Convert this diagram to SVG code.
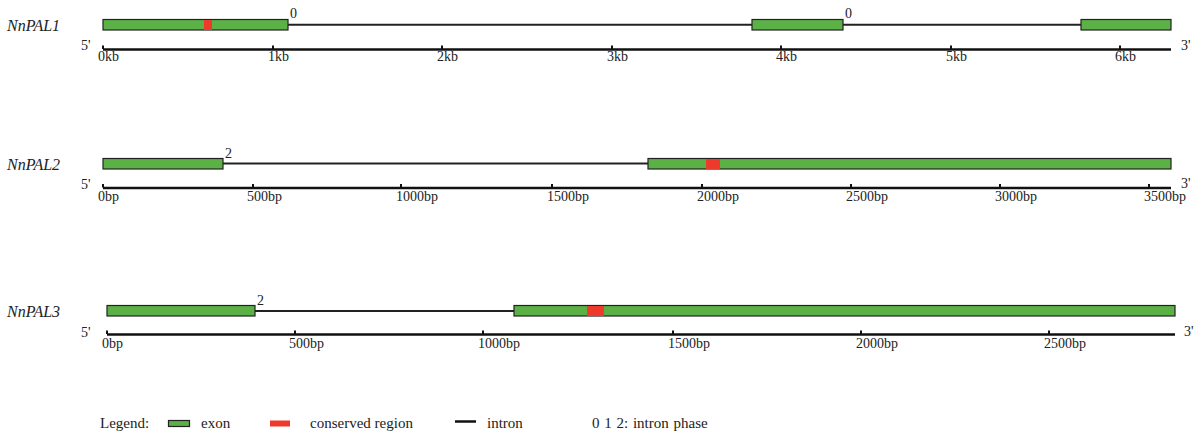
<svg xmlns="http://www.w3.org/2000/svg" width="1200" height="436" viewBox="0 0 1200 436" font-family="'Liberation Serif', 'Times New Roman', serif">
<style>
text{font-family:"Liberation Serif","Times New Roman",serif;font-size:14px;fill:#222}
.name{font-style:italic;font-size:16px}
.lg{font-size:15px}
.ex{fill:#5cb146;stroke:#222;stroke-width:1.2}
.cr{fill:#ee3a2c}
.intr{stroke:#222;stroke-width:2;fill:none}
.ax{stroke:#111;stroke-width:2.5;fill:none}
.tk{stroke:#111;stroke-width:2;fill:none}
</style>
<rect width="1200" height="436" fill="#fff"/>
<g id="connectors">
<line class="intr" x1="288" y1="24.7" x2="752" y2="24.7"/>
<line class="intr" x1="843" y1="24.7" x2="1081" y2="24.7"/>
<line class="intr" x1="223" y1="163.5" x2="648" y2="163.5"/>
<line class="intr" x1="255" y1="311" x2="514" y2="311"/>
</g>
<g id="NnPAL1">
<text class="name" x="7" y="31">NnPAL1</text>
<rect class="ex" x="103" y="19.5" width="185" height="10.5"/>
<rect class="cr" x="204" y="20" width="8" height="10"/>
<rect class="ex" x="752" y="19.5" width="91" height="10.5"/>
<rect class="ex" x="1081" y="19.5" width="90" height="10.5"/>
<text x="290" y="18">0</text>
<text x="845" y="18">0</text>
<text x="81" y="50">5'</text>
<text x="1181" y="50">3'</text>
<line class="ax" x1="103" y1="49.5" x2="1171" y2="49.5"/>
<path class="tk" d="M103 45.5v3.5M273 45.5v3.5M442 45.5v3.5M612 45.5v3.5M781 45.5v3.5M951 45.5v3.5M1120 45.5v3.5"/>
<text x="98" y="61">0kb</text>
<text x="268" y="61">1kb</text>
<text x="437" y="61">2kb</text>
<text x="607" y="61">3kb</text>
<text x="776" y="61">4kb</text>
<text x="946" y="61">5kb</text>
<text x="1115" y="61">6kb</text>
</g>
<g id="NnPAL2">
<text class="name" x="7" y="170">NnPAL2</text>
<rect class="ex" x="103" y="158.5" width="120" height="10.5"/>
<rect class="ex" x="648" y="158.5" width="523" height="10.5"/>
<rect class="cr" x="706" y="159" width="14" height="10"/>
<text x="225" y="158">2</text>
<text x="81" y="189">5'</text>
<text x="1181" y="188">3'</text>
<line class="ax" x1="103" y1="188" x2="1171" y2="188"/>
<path class="tk" d="M103 184v3.5M253 184v3.5M401 184v3.5M552 184v3.5M702 184v3.5M851 184v3.5M1000 184v3.5M1149 184v3.5"/>
<text x="98" y="201">0bp</text>
<text x="247" y="201">500bp</text>
<text x="396" y="201">1000bp</text>
<text x="547" y="201">1500bp</text>
<text x="697" y="201">2000bp</text>
<text x="846" y="201">2500bp</text>
<text x="995" y="201">3000bp</text>
<text x="1144" y="201">3500bp</text>
</g>
<g id="NnPAL3">
<text class="name" x="7" y="317">NnPAL3</text>
<rect class="ex" x="107" y="305.5" width="148" height="10.5"/>
<rect class="ex" x="514" y="305.5" width="661" height="10.5"/>
<rect class="cr" x="587" y="306" width="17" height="10"/>
<text x="257" y="305">2</text>
<text x="81" y="337">5'</text>
<text x="1184" y="336">3'</text>
<line class="ax" x1="107" y1="334.5" x2="1175" y2="334.5"/>
<path class="tk" d="M107 330.5v3.5M295 330.5v3.5M483 330.5v3.5M673 330.5v3.5M861 330.5v3.5M1049 330.5v3.5"/>
<text x="102" y="348">0bp</text>
<text x="289" y="348">500bp</text>
<text x="478" y="348">1000bp</text>
<text x="668" y="348">1500bp</text>
<text x="856" y="348">2000bp</text>
<text x="1044" y="348">2500bp</text>
</g>
<g id="legend">
<text class="lg" x="100" y="428">Legend:</text>
<rect class="ex" x="168.5" y="420.5" width="21" height="6"/>
<text class="lg" x="201" y="428">exon</text>
<rect fill="#ee3a2c" x="270" y="420.5" width="20" height="6"/>
<text class="lg" x="310" y="428">conserved region</text>
<line stroke="#111" stroke-width="2.5" x1="455" y1="421.5" x2="476" y2="421.5"/>
<text class="lg" x="487" y="428">intron</text>
<text class="lg" x="592" y="428" word-spacing="1">0 1 2: intron phase</text>
</g>
</svg>
